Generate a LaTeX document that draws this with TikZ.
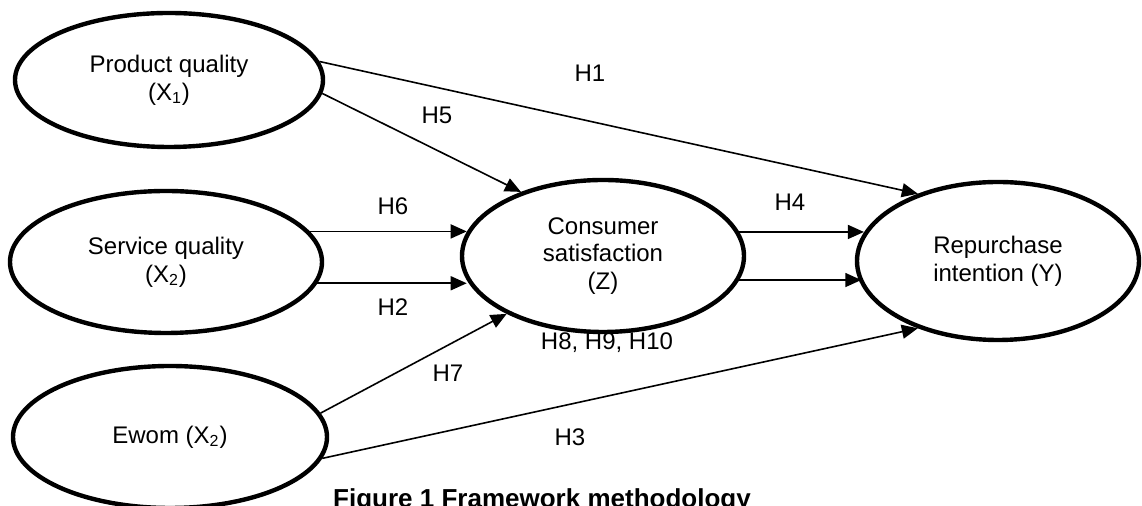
\documentclass[tikz,border=0pt]{standalone}
\usepackage{fontspec}
\setmainfont{Liberation Sans}
\usepackage{tikz}
\usetikzlibrary{shapes.geometric}
\usetikzlibrary{arrows.meta}

\begin{document}
\begin{tikzpicture}[x=0.5pt,y=-0.5pt,
  var/.style={draw,ellipse,line width=2.2pt,align=center,inner sep=0pt,font=\fontsize{12pt}{13.8pt}\selectfont},
  hyp/.style={font=\fontsize{12pt}{14pt}\selectfont},
  arr/.style={-{Triangle[length=8pt,width=7pt]},line width=0.8pt}]
\useasboundingbox (0,0) rectangle (1142,506);
\clip (0,0) rectangle (1142,506);

\node[var,minimum width=154pt,minimum height=67pt] (prod) at (169,80) {Product quality\\(X\textsubscript{1})};
\node[var,minimum width=156pt,minimum height=71pt] (serv) at (166,262) {Service quality\\(X\textsubscript{2})};
\node[var,minimum width=157pt,minimum height=71pt] (ewom) at (170,437) {Ewom (X\textsubscript{2})};
\node[var,minimum width=141pt,minimum height=76pt] (cons) at (603,256) {Consumer\\satisfaction\\(Z)};
\node[var,minimum width=141pt,minimum height=79pt] (rep) at (998,261) {Repurchase\\intention (Y)};

\draw[arr] (prod.7) -- (rep.140);
\draw[arr] (prod.-5) -- (cons.142);
\draw[arr] (serv.12) -- (serv.12 -| cons.170);
\draw[arr] (serv.-8) -- (serv.-8 -| cons.190);
\draw[arr] (ewom.9) -- (cons.211);
\draw[arr] (ewom.-8) -- (rep.220);
\draw[arr] (cons.10) -- (cons.10 -| rep.168);
\draw[arr] (cons.-10) -- (cons.-10 -| rep.190);

\node[hyp] (h1) at (590,73) {H1};
\node[hyp] (h5) at (437,115) {H5};
\node[hyp] (h6) at (393,206) {H6};
\node[hyp] (h2) at (393,307) {H2};
\node[hyp] (h7) at (448,373) {H7};
\node[hyp] (h3) at (570,437) {H3};
\node[hyp] (h4) at (790,202) {H4};
\node[hyp] (h8) at (607,343) {H8, H9, H10};

\node[font=\bfseries\fontsize{13pt}{15pt}\selectfont,anchor=base] (cap) at (542,508) {Figure 1 Framework methodology};

\end{tikzpicture}
\end{document}
